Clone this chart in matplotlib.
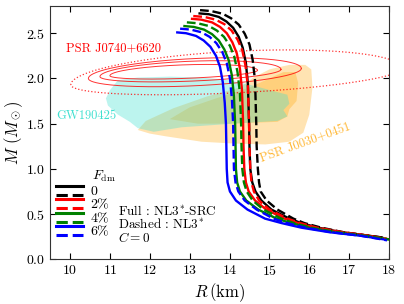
import numpy as np
import matplotlib.pyplot as plt
from matplotlib.lines import Line2D
from matplotlib.legend_handler import HandlerBase

plt.rcParams['font.family'] = 'serif'
plt.rcParams['font.serif'] = ['cmr10']
plt.rcParams['mathtext.fontset'] = 'cm'
plt.rcParams['axes.formatter.use_mathtext'] = True

# mass-radius curves, solid = NL3*-SRC, dashed = NL3*
r_src_0 = [13.22, 13.48, 13.73, 13.92, 14.09, 14.23, 14.33, 14.41, 14.46, 14.49, 14.50,
           14.52, 14.57, 14.65, 14.80, 15.05, 15.50, 15.80, 16.22, 16.80, 17.50, 17.85]
m_src_0 = [2.72, 2.71, 2.68, 2.63, 2.56, 2.46, 2.34, 2.17, 1.94, 1.50, 1.25,
           1.00, 0.85, 0.75, 0.65, 0.55, 0.45, 0.40, 0.35, 0.30, 0.26, 0.24]
r_nl3_0 = [13.26, 13.54, 13.83, 14.04, 14.23, 14.38, 14.50, 14.58, 14.64, 14.67, 14.68,
           14.71, 14.74, 14.78, 14.93, 15.20, 15.60, 15.88, 16.30, 16.85, 17.50, 17.85]
m_nl3_0 = [2.755, 2.745, 2.715, 2.665, 2.595, 2.495, 2.375, 2.205, 1.975, 1.50, 1.25,
           1.00, 0.85, 0.75, 0.65, 0.55, 0.45, 0.40, 0.35, 0.30, 0.26, 0.24]

r_src_2 = [13.03, 13.29, 13.56, 13.76, 13.93, 14.07, 14.18, 14.26, 14.31, 14.34, 14.35,
           14.37, 14.41, 14.48, 14.64, 14.92, 15.38, 15.72, 16.15, 16.80, 17.50, 17.95]
m_src_2 = [2.66, 2.65, 2.62, 2.57, 2.50, 2.40, 2.28, 2.11, 1.88, 1.50, 1.25,
           1.00, 0.85, 0.75, 0.65, 0.55, 0.45, 0.40, 0.35, 0.30, 0.26, 0.225]
r_nl3_2 = [13.09, 13.37, 13.65, 13.87, 14.05, 14.20, 14.32, 14.40, 14.46, 14.49, 14.50,
           14.52, 14.55, 14.61, 14.74, 15.00, 15.45, 15.78, 16.20, 16.85, 17.50, 17.95]
m_nl3_2 = [2.69, 2.68, 2.65, 2.60, 2.53, 2.43, 2.31, 2.14, 1.91, 1.50, 1.25,
           1.00, 0.85, 0.75, 0.65, 0.55, 0.45, 0.40, 0.35, 0.30, 0.26, 0.225]

r_src_4 = [12.84, 13.10, 13.36, 13.56, 13.73, 13.87, 13.98, 14.06, 14.11, 14.14, 14.15,
           14.16, 14.19, 14.26, 14.42, 14.72, 15.18, 15.55, 16.00, 16.65, 17.40, 18.00]
m_src_4 = [2.58, 2.57, 2.54, 2.49, 2.42, 2.32, 2.20, 2.03, 1.80, 1.50, 1.25,
           1.00, 0.85, 0.75, 0.65, 0.55, 0.45, 0.40, 0.35, 0.30, 0.26, 0.22]
r_nl3_4 = [12.93, 13.20, 13.48, 13.68, 13.86, 14.01, 14.12, 14.20, 14.26, 14.29, 14.30,
           14.32, 14.36, 14.43, 14.58, 14.85, 15.30, 15.62, 16.05, 16.70, 17.40, 18.00]
m_nl3_4 = [2.62, 2.61, 2.58, 2.53, 2.46, 2.36, 2.24, 2.07, 1.84, 1.50, 1.25,
           1.00, 0.85, 0.75, 0.65, 0.55, 0.45, 0.40, 0.35, 0.30, 0.26, 0.22]

r_src_6 = [12.66, 12.91, 13.16, 13.35, 13.52, 13.66, 13.76, 13.83, 13.88, 13.91, 13.92,
           13.93, 13.95, 14.01, 14.16, 14.45, 14.89, 15.31, 15.80, 16.50, 17.30, 17.95]
m_src_6 = [2.51, 2.50, 2.47, 2.42, 2.35, 2.25, 2.13, 1.96, 1.73, 1.50, 1.25,
           1.00, 0.85, 0.75, 0.65, 0.55, 0.45, 0.40, 0.35, 0.30, 0.26, 0.215]
r_nl3_6 = [12.76, 13.03, 13.30, 13.50, 13.67, 13.82, 13.93, 14.01, 14.06, 14.09, 14.10,
           14.11, 14.15, 14.22, 14.38, 14.68, 15.10, 15.45, 15.90, 16.55, 17.30, 17.95]
m_nl3_6 = [2.55, 2.54, 2.51, 2.46, 2.39, 2.29, 2.17, 2.00, 1.77, 1.50, 1.25,
           1.00, 0.85, 0.75, 0.65, 0.55, 0.45, 0.40, 0.35, 0.30, 0.26, 0.21]

fdm_labels = ['0', r'2%', r'4%', r'6%']
colors = ['black', 'red', 'green', 'blue']

# PSR J0740+6620 contours: centre, half widths, tilt
psr_cx = [14.17, 13.13, 13.02, 12.85]
psr_cy = [2.021, 2.055, 2.06, 2.06]
psr_a = [4.15, 2.67, 2.27, 1.85]
psr_btop = [0.28, 0.165, 0.13, 0.09]
psr_bbot = [0.18, 0.136, 0.09, 0.06]
psr_tilt = [0.0219, 0.0206, 0.0176, 0.016]
psr_style = [':', '-', '-', '-']
psr_lw = [0.9, 0.7, 0.7, 0.7]

# PSR J0030+0451 regions
j0030_r = [11.7, 12.0, 12.4, 13.3, 14.1, 14.9, 15.5, 15.85, 16.0, 16.08, 16.05, 15.9,
           15.5, 15.0, 14.6, 14.26, 13.43, 12.59, 11.9]
j0030_m = [1.43, 1.39, 1.36, 1.30, 1.28, 1.27, 1.30, 1.40, 1.6, 1.9, 2.1, 2.15,
           2.15, 2.10, 2.01, 1.90, 1.80, 1.67, 1.53]
j0030_in_r = [12.5, 13.0, 13.8, 14.5, 15.0, 15.35, 15.65, 15.72, 15.68, 15.5, 15.45,
              15.2, 14.0, 13.2]
j0030_in_m = [1.55, 1.68, 1.80, 1.90, 2.00, 2.07, 2.07, 1.95, 1.75, 1.66, 1.58,
              1.52, 1.50, 1.50]

# GW190425 region
gw_r = [11.0, 11.2, 11.7, 12.5, 13.3, 14.0, 14.6, 15.1, 15.45, 15.5, 15.35, 15.45,
        15.2, 14.1, 12.8, 12.1, 11.7, 11.5, 11.2, 10.95, 10.9]
gw_m = [1.87, 1.98, 2.01, 2.02, 2.01, 1.98, 1.92, 1.86, 1.82, 1.72, 1.65, 1.58,
        1.53, 1.50, 1.46, 1.41, 1.45, 1.52, 1.60, 1.70, 1.78]


class PairHandler(HandlerBase):
    def create_artists(self, legend, orig_handle, xdescent, ydescent,
                       width, height, fontsize, trans):
        c = orig_handle.get_color()
        x = [-xdescent, -xdescent + width]
        top = Line2D(x, [height * 0.95 - ydescent] * 2, color=c, lw=2.2, transform=trans)
        bot = Line2D(x, [height * 0.05 - ydescent] * 2, color=c, lw=2.2, ls='--',
                     transform=trans)
        return [top, bot]


fig = plt.figure(figsize=(4.04, 3.04), dpi=100)
ax = fig.add_axes([0.124, 0.147, 0.839, 0.833])

ax.fill(j0030_r, j0030_m, color='orange', alpha=0.3, lw=0)
ax.fill(j0030_in_r, j0030_in_m, color='orange', alpha=0.3, lw=0)
ax.fill(gw_r, gw_m, color='turquoise', alpha=0.35, lw=0)

t = np.linspace(0, 2 * np.pi, 300)
for i in range(len(psr_cx)):
    b = np.where(np.sin(t) > 0, psr_btop[i], psr_bbot[i])
    rr = psr_cx[i] + psr_a[i] * np.cos(t)
    mm = psr_cy[i] + psr_tilt[i] * (rr - psr_cx[i]) + b * np.sin(t)
    ax.plot(rr, mm, color='red', lw=psr_lw[i], ls=psr_style[i], alpha=0.8)

src = [(r_src_0, m_src_0), (r_src_2, m_src_2), (r_src_4, m_src_4), (r_src_6, m_src_6)]
nl3 = [(r_nl3_0, m_nl3_0), (r_nl3_2, m_nl3_2), (r_nl3_4, m_nl3_4), (r_nl3_6, m_nl3_6)]
for (r, m), c in zip(src, colors):
    ax.plot(r, m, color=c, lw=1.7, solid_capstyle='butt')
for (r, m), c in zip(nl3, colors):
    ax.plot(r, m, color=c, lw=1.7, ls='--')

ax.text(11.1, 2.34, 'PSR J0740+6620', color='red', fontsize=9, ha='center', va='center')
ax.text(10.42, 1.58, 'GW190425', color='turquoise', fontsize=9, ha='center', va='center')
ax.text(15.9, 1.29, 'PSR J0030+0451', color='orange', alpha=0.8, fontsize=9,
        ha='center', va='center', rotation=20)

ax.text(10.55, 0.915, r'$F_{\rm dm}$', fontsize=10, ha='left', va='center')
ax.text(11.2, 0.53, r'Full : NL3$^{*}$-SRC', fontsize=9.5, ha='left', va='center')
ax.text(11.2, 0.39, r'Dashed : NL3$^{*}$', fontsize=9.5, ha='left', va='center')
ax.text(11.2, 0.24, r'$C=0$', fontsize=9.5, ha='left', va='center')

handles = [Line2D([], [], color=c) for c in colors]
ax.legend(handles, fdm_labels, handler_map={Line2D: PairHandler()},
          loc='lower left', bbox_to_anchor=(0.0, 0.06), frameon=False,
          fontsize=10, handlelength=2.0, handletextpad=0.5, labelspacing=0.05,
          borderaxespad=0.2, borderpad=0.2)

ax.set_xlim(9.5, 18)
ax.set_ylim(0, 2.8)
ax.set_xticks(range(10, 19))
ax.set_yticks([0.0, 0.5, 1.0, 1.5, 2.0, 2.5])
ax.tick_params(direction='in', top=True, right=True, length=4, width=0.8, labelsize=10)
for s in ax.spines.values():
    s.set_color('#333333')
ax.set_xlabel(r'$R\,(\rm km)$', fontsize=12, labelpad=2)
ax.set_ylabel(r'$M\ (M_\odot)$', fontsize=12, labelpad=1)

fig.savefig('out.png', dpi=100)
